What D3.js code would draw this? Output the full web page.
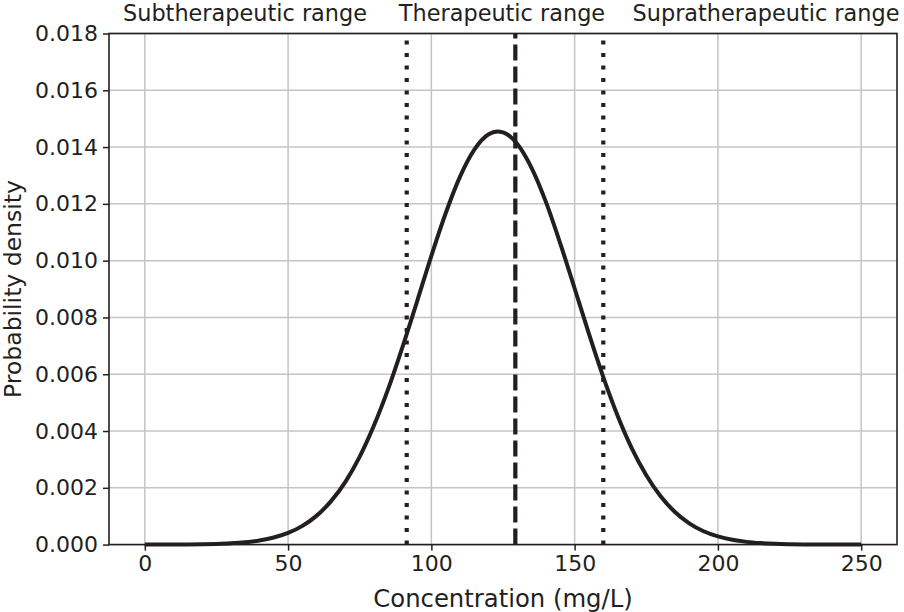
<!DOCTYPE html>
<html>
<head>
<meta charset="utf-8">
<script src="https://cdn.jsdelivr.net/npm/d3@7"></script>
<style>
  body { margin: 0; background: #fff; }
  text { font-family: "DejaVu Sans", sans-serif; fill: #231f20; }
</style>
</head>
<body>
<script>
// concentration (mg/L) and density
var concentration = [0, 5, 10, 15, 20, 25, 30, 35, 40, 45, 50, 55, 60, 65, 70, 75, 80, 85, 90, 95,
  100, 105, 110, 115, 120, 123, 125, 130, 135, 140, 145, 150, 155, 160, 165, 170, 175, 180, 185, 190,
  195, 200, 205, 210, 215, 220, 225, 230, 235, 240, 245, 250];
var density = [0.000001, 0.0000013, 0.000003, 0.000006, 0.000012, 0.000024, 0.000045, 0.000082, 0.000145, 0.000248,
  0.00041, 0.00066, 0.00102, 0.00153, 0.00221, 0.0031, 0.0042, 0.0055, 0.00698, 0.00856,
  0.01017, 0.01167, 0.01296, 0.01391, 0.01445, 0.01455, 0.01452, 0.01411, 0.01326, 0.01206,
  0.0106, 0.00902, 0.00742, 0.0059, 0.00454, 0.00338, 0.00244, 0.0017, 0.00115, 0.00075,
  0.00047, 0.00029, 0.00017, 0.000096, 0.000053, 0.000028, 0.000015, 0.000007, 0.0000035, 0.0000016,
  0.0000007, 0.0000003];

var rangeBounds = [91.4, 160];   // dotted lines
var centerLine = 129.3;          // dashed line
var rangeLabels = ["Subtherapeutic range", "Therapeutic range", "Supratherapeutic range"];
var xTicks = [0, 50, 100, 150, 200, 250];
var yTicks = [0, 0.002, 0.004, 0.006, 0.008, 0.010, 0.012, 0.014, 0.016, 0.018];

var width = 904, height = 612;
var margin = {top: 33.5, right: 7, bottom: 67.4, left: 109};
var ink = "#231f20";

var svg = d3.select("body").append("svg")
    .attr("width", width)
    .attr("height", height);

var x = d3.scaleLinear().domain([-12.5, 262.5]).range([margin.left, width - margin.right]);
var y = d3.scaleLinear().domain([0, 0.018]).range([height - margin.bottom, margin.top]);

// grid
svg.append("g").selectAll("line.vgrid")
  .data(xTicks).enter().append("line")
    .attr("x1", d => x(d)).attr("x2", d => x(d))
    .attr("y1", y(0)).attr("y2", y(0.018))
    .attr("stroke", "#c4c4c4").attr("stroke-width", 1.5);
svg.append("g").selectAll("line.hgrid")
  .data(yTicks).enter().append("line")
    .attr("x1", x.range()[0]).attr("x2", x.range()[1])
    .attr("y1", d => y(d)).attr("y2", d => y(d))
    .attr("stroke", "#c4c4c4").attr("stroke-width", 1.5);

// axes
var xAxis = svg.append("g")
    .attr("transform", "translate(0," + y(0) + ")")
    .call(d3.axisBottom(x).tickValues(xTicks).tickFormat(d3.format("d")).tickSize(6).tickPadding(5));
var yAxis = svg.append("g")
    .attr("transform", "translate(" + x.range()[0] + ",0)")
    .call(d3.axisLeft(y).tickValues(yTicks).tickFormat(d3.format(".3f")).tickSize(6).tickPadding(5));

[xAxis, yAxis].forEach(function(g) {
  g.select(".domain").remove();
  g.selectAll(".tick line").attr("stroke", ink).attr("stroke-width", 1.5);
  g.selectAll(".tick text").attr("fill", ink).style("font-size", "22px")
    .style("font-family", "'DejaVu Sans', sans-serif");
});

// frame
svg.append("rect")
    .attr("x", x.range()[0]).attr("y", y(0.018))
    .attr("width", x.range()[1] - x.range()[0])
    .attr("height", y(0) - y(0.018))
    .attr("fill", "none").attr("stroke", ink).attr("stroke-width", 1.6);

// vertical markers
svg.selectAll("line.bound")
  .data(rangeBounds).enter().append("line")
    .attr("x1", d => x(d)).attr("x2", d => x(d))
    .attr("y1", y(0)).attr("y2", y(0.018))
    .attr("stroke", ink).attr("stroke-width", 4.2)
    .attr("stroke-dasharray", "4,8.5");
svg.append("line")
    .attr("x1", x(centerLine)).attr("x2", x(centerLine))
    .attr("y1", y(0)).attr("y2", y(0.018))
    .attr("stroke", ink).attr("stroke-width", 4.2)
    .attr("stroke-dasharray", "16,6");

// density curve
var pts = concentration.map((c, i) => [c, density[i]]);
svg.append("path")
    .datum(pts)
    .attr("fill", "none")
    .attr("stroke", ink)
    .attr("stroke-width", 4)
    .attr("stroke-linejoin", "round")
    .attr("d", d3.line().x(d => x(d[0])).y(d => y(d[1])).curve(d3.curveMonotoneX));

// range labels along the top
var labelX = [245, 502, 766];
svg.selectAll("text.range")
  .data(rangeLabels).enter().append("text")
    .attr("class", "range")
    .attr("x", (d, i) => labelX[i])
    .attr("y", 21)
    .attr("text-anchor", "middle")
    .style("font-size", "22.4px")
    .text(d => d);

// axis titles
svg.append("text")
    .attr("x", (x.range()[0] + x.range()[1]) / 2)
    .attr("y", 607)
    .attr("text-anchor", "middle")
    .style("font-size", "24.3px")
    .text("Concentration (mg/L)");
svg.append("text")
    .attr("transform", "translate(21," + ((y(0) + y(0.018)) / 2) + ") rotate(-90)")
    .attr("text-anchor", "middle")
    .style("font-size", "23.5px")
    .text("Probability density");
</script>
</body>
</html>
